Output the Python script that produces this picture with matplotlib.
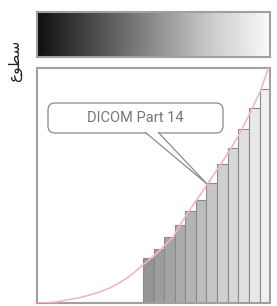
import matplotlib
matplotlib.use("Agg")
import matplotlib.pyplot as plt
import numpy as np
from matplotlib.colors import LinearSegmentedColormap
from matplotlib.patches import FancyBboxPatch, Polygon

# ---- data (normalised 0..1 axes) ----
bar_left = [0.455, 0.500, 0.545, 0.591, 0.636, 0.682, 0.727, 0.773, 0.818, 0.864, 0.909, 0.955]
bar_height = [0.19, 0.23, 0.28, 0.33, 0.39, 0.44, 0.51, 0.59, 0.66, 0.74, 0.83, 0.91]
bar_color = ["#959595", "#9c9c9c", "#a4a4a4", "#ababab", "#b4b4b4", "#bdbdbd",
             "#c6c6c6", "#cfcfcf", "#d8d8d8", "#e0e0e0", "#e8e8e8", "#f0f0f0"]
curve_x = [0.0, 0.026, 0.08, 0.129, 0.18, 0.227, 0.27, 0.313, 0.35, 0.386, 0.42,
           0.455, 0.515, 0.584, 0.644, 0.69, 0.734, 0.785, 0.837, 0.88, 0.92, 0.96, 0.99, 1.01]
curve_y = [0.0, 0.0, 0.004, 0.013, 0.022, 0.034, 0.048, 0.064, 0.084, 0.106, 0.132,
           0.162, 0.213, 0.281, 0.38, 0.445, 0.51, 0.585, 0.665, 0.74, 0.82, 0.905, 0.99, 1.03]
grad_pos = [0.0, 0.25, 0.5, 0.75, 1.0]
grad_gray = [0.06, 0.30, 0.55, 0.80, 0.98]
label_text = "\uFEC9\uFEEE\uFEC4\uFEB3"   # سطوع (shaped, visual order)
callout_text = "DICOM Part 14"

W, H = 277, 306
fig = plt.figure(figsize=(W / 100, H / 100), dpi=100)

def fx(px):
    return px / W

def fy(py):
    return 1 - py / H

# gradient strip
gax = fig.add_axes([fx(37), fy(57), fx(270) - fx(37), fy(12) - fy(57)])
cmap = LinearSegmentedColormap.from_list(
    "g", [(p, (g, g, g)) for p, g in zip(grad_pos, grad_gray)])
ramp = np.linspace(0, 1, 256)[None, :]
gax.imshow(ramp, cmap=cmap, aspect="auto", extent=[0, 1, 0, 1], vmin=0, vmax=1)
gax.set_xticks([]); gax.set_yticks([])
for s in gax.spines.values():
    s.set_color("#a0a0a0"); s.set_linewidth(1.5)

# main plot
ax = fig.add_axes([fx(37), fy(303), fx(270) - fx(37), fy(68) - fy(303)])
ax.set_xlim(0, 1); ax.set_ylim(0, 1)
ax.set_xticks([]); ax.set_yticks([])
for s in ax.spines.values():
    s.set_color("#a0a0a0"); s.set_linewidth(1.5)

widths = [bar_left[i + 1] - bar_left[i] if i + 1 < len(bar_left) else 1.0 - bar_left[i]
          for i in range(len(bar_left))]
ax.bar(bar_left, bar_height, width=widths, align="edge", color=bar_color,
       edgecolor="#8a8a8a", linewidth=0.8, zorder=2)
ax.plot(curve_x, curve_y, color="#f2b6c6", lw=1.2, zorder=3, clip_on=True,
        solid_joinstyle="round")

# callout box with tail
box_x0, box_x1 = (48 - 37) / 233, (223 - 37) / 233
box_y0, box_y1 = (303 - 133) / 235, (303 - 103) / 235
box = FancyBboxPatch((box_x0, box_y0), box_x1 - box_x0, box_y1 - box_y0,
                     boxstyle="round,pad=0,rounding_size=0.03",
                     facecolor="white", edgecolor="#8a8a8a", lw=0.9, zorder=5)
ax.add_patch(box)
tail = Polygon([((145 - 37) / 233, box_y0 + 0.004), ((207 - 37) / 233, (303 - 184) / 235),
                ((158 - 37) / 233, box_y0 + 0.004)],
               closed=False, facecolor="white", edgecolor="#8a8a8a", lw=0.9, zorder=6)
ax.add_patch(tail)
ax.text((box_x0 + box_x1) / 2, (box_y0 + box_y1) / 2, callout_text,
        ha="center", va="center", fontsize=10.5, color="#777777", zorder=7,
        family=["Liberation Sans Narrow", "Roboto", "DejaVu Sans"])

fig.text(fx(15), fy(61), label_text, rotation=90, ha="center", va="center",
         fontsize=11, color="#222222", family=["DejaVu Sans"])

fig.savefig("out.png", dpi=100, facecolor="white")
